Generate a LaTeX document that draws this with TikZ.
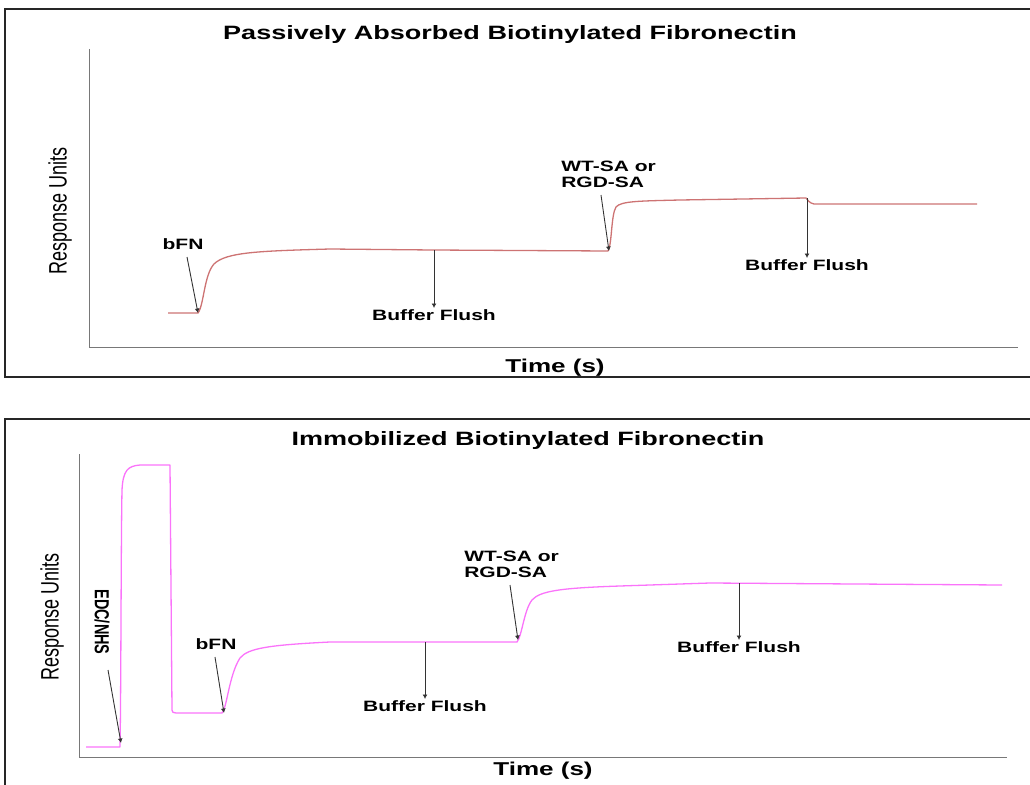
\documentclass[tikz,border=0pt]{standalone}
\usepackage{fontspec}
\setmainfont{Liberation Sans}
\usepackage{tikz}
\usetikzlibrary{positioning}
\usetikzlibrary{arrows.meta}
\definecolor{traceA}{RGB}{205,115,115}
\definecolor{traceB}{RGB}{250,115,250}
\definecolor{axisgray}{RGB}{120,120,120}
\tikzset{% looks shared by both sensorgrams
        frame/.style={line width=2.5pt, black!85},
        axis/.style={line width=1pt, axisgray},
        trace/.style={line width=1.3pt, line join=round},
        flow/.style={-{Latex[length=4.5pt,width=5pt]}, line width=0.9pt, black!80},
        lbl/.style={font=\fontsize{15}{16}\selectfont\bfseries, inner sep=0pt, xscale=1.4},
        ttl/.style={font=\fontsize{19.3}{20}\selectfont\bfseries, inner sep=0pt, xscale=1.4},
        ylbl/.style={font=\fontsize{18}{20}\selectfont, inner sep=0pt, rotate=90},
        xlbl/.style={font=\fontsize{18.6}{20}\selectfont\bfseries, inner sep=0pt, xscale=1.4}
        }
\newcommand{\tall}[1]{\scalebox{1}[1.4]{#1}}

\begin{document}
\begin{tikzpicture}[x=1pt,y=-1pt]
\useasboundingbox (0,0) rectangle (1030,784);
% upper panel
\draw[frame] (1034,9) -- (5,9) -- (5,377) -- (1034,377);
\draw[axis] (89,49) -- (89,347) -- (1018,347);
\node[ttl] (ttlA) at (510,35) {Passively Absorbed Biotinylated Fibronectin};
\node[ylbl] (yA) at (60,211) {\tall{Response Units}};
\node[xlbl] (xA) at (555,368) {Time (s)};
\draw[trace, traceA] (168,313) -- (198,313)
  .. controls (204,305) and (204,275) .. (214,264)
  .. controls (226,252) and (260,251) .. (330,249) -- (433,250) -- (608,251)
  .. controls (612,245) and (611,215) .. (616,207)
  .. controls (621,201) and (640,201) .. (680,200) -- (806,198)
  .. controls (808,200) and (809,203) .. (814,204) -- (977,204);
\coordinate (bfnA1) at (187,257);
\coordinate (bfnA2) at (198,313);
\node[lbl] (bfnA) at (183,244) {bFN};
\draw[flow] (bfnA1) -- (bfnA2);
\coordinate (flA1) at (434,250);
\coordinate (flA2) at (434,308);
\node[lbl, below=1pt of flA2] (flA) {Buffer Flush};
\draw[flow] (flA1) -- (flA2);
\coordinate (wtA1) at (601,195);
\coordinate (wtA2) at (609,251);
\node[lbl, align=left, anchor=west] (wtA) at (561,174) {WT-SA or\\RGD-SA};
\draw[flow] (wtA1) -- (wtA2);
\coordinate (flB1) at (807,198);
\coordinate (flB2) at (807,258);
\node[lbl, below=1pt of flB2] (flB) {Buffer Flush};
\draw[flow] (flB1) -- (flB2);
% lower panel
\draw[frame] (1034,419) -- (5,419) -- (5,790);
\draw[axis] (79,454) -- (79,757) -- (1007,757);
\node[ttl] (ttlB) at (528,441) {Immobilized Biotinylated Fibronectin};
\node[ylbl] (yB) at (52,617) {\tall{Response Units}};
\node[xlbl] (xB) at (543,771) {Time (s)};
\draw[trace, traceB] (86,747) -- (120,747)
  .. controls (121,700) and (121,540) .. (122,490)
  .. controls (123,470) and (128,466) .. (140,465) -- (170,465) -- (172,710)
  .. controls (172,712) and (173,713) .. (176,713) -- (222,713)
  .. controls (227,708) and (229,675) .. (240,658)
  .. controls (248,648) and (270,645) .. (330,642) -- (517,642)
  .. controls (522,636) and (524,610) .. (532,600)
  .. controls (540,591) and (560,588) .. (620,586) -- (710,583) -- (1002,585);
\coordinate (edcB1) at (108,670);
\coordinate (edcB2) at (121,743);
\node[ylbl, font=\fontsize{14.5}{16}\selectfont\bfseries, rotate=180] (edcB) at (102,622) {\tall{EDC/NHS}};
\draw[flow] (edcB1) -- (edcB2);
\coordinate (bfnB1) at (215,657);
\coordinate (bfnB2) at (224,713);
\node[lbl] (bfnB) at (216,644) {bFN};
\draw[flow] (bfnB1) -- (bfnB2);
\coordinate (flC1) at (425,642);
\coordinate (flC2) at (425,699);
\node[lbl, below=1pt of flC2] (flC) {Buffer Flush};
\draw[flow] (flC1) -- (flC2);
\coordinate (wtB1) at (510,585);
\coordinate (wtB2) at (518,640);
\node[lbl, align=left, anchor=west] (wtB) at (464,564) {WT-SA or\\RGD-SA};
\draw[flow] (wtB1) -- (wtB2);
\coordinate (flD1) at (739,583);
\coordinate (flD2) at (739,640);
\node[lbl, below=1pt of flD2] (flD) {Buffer Flush};
\draw[flow] (flD1) -- (flD2);
\end{tikzpicture}
\end{document}
